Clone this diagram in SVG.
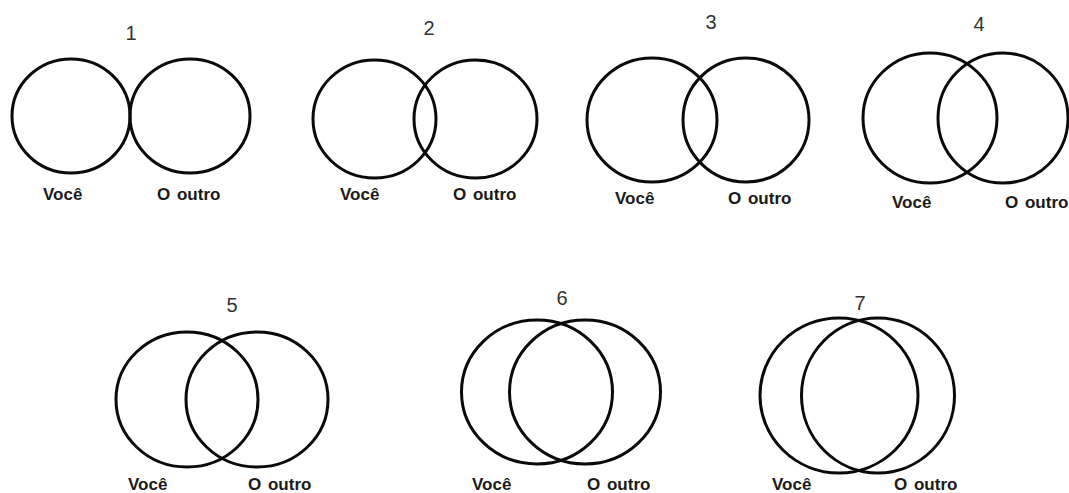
<svg xmlns="http://www.w3.org/2000/svg" width="1069" height="493" viewBox="0 0 1069 493">
<style>
.c{fill:none;stroke:#0a0a0a;stroke-width:3}
.n{font-family:"Liberation Sans",Arial,sans-serif;font-size:20px;fill:#333;text-anchor:middle}
.l{font-family:"Liberation Sans",Arial,sans-serif;font-size:17px;font-weight:bold;fill:#1a1a1a;word-spacing:2px}
</style>
<rect width="1069" height="493" fill="#fff"/>
<g id="d1">
<ellipse class="c" cx="71" cy="116" rx="59" ry="57"/>
<ellipse class="c" cx="190" cy="116" rx="60" ry="57"/>
<text class="n" x="131" y="40">1</text>
<text class="l" x="43" y="200">Você</text>
<text class="l" x="157" y="200">O outro</text>
</g>
<g id="d2">
<ellipse class="c" cx="374.5" cy="119" rx="61.5" ry="59"/>
<ellipse class="c" cx="475.5" cy="119" rx="61.5" ry="59"/>
<text class="n" x="429" y="35">2</text>
<text class="l" x="340" y="200">Você</text>
<text class="l" x="453" y="200">O outro</text>
</g>
<g id="d3">
<ellipse class="c" cx="652" cy="120" rx="65" ry="62"/>
<ellipse class="c" cx="746" cy="120" rx="63" ry="62"/>
<text class="n" x="711" y="29">3</text>
<text class="l" x="615" y="204">Você</text>
<text class="l" x="728" y="204">O outro</text>
</g>
<g id="d4">
<ellipse class="c" cx="930" cy="118" rx="67" ry="65"/>
<ellipse class="c" cx="1003" cy="118" rx="65" ry="65"/>
<text class="n" x="979" y="31">4</text>
<text class="l" x="892" y="208">Você</text>
<text class="l" x="1005" y="208">O outro</text>
</g>
<g id="d5">
<ellipse class="c" cx="187" cy="399.5" rx="71" ry="67.5"/>
<ellipse class="c" cx="257" cy="399.5" rx="71" ry="67.5"/>
<text class="n" x="232" y="312">5</text>
<text class="l" x="128" y="490">Você</text>
<text class="l" x="248" y="490">O outro</text>
</g>
<g id="d6">
<ellipse class="c" cx="537" cy="392" rx="75.5" ry="72"/>
<ellipse class="c" cx="585" cy="392" rx="75.5" ry="72"/>
<text class="n" x="562" y="305">6</text>
<text class="l" x="472" y="490">Você</text>
<text class="l" x="587" y="490">O outro</text>
</g>
<g id="d7">
<ellipse class="c" cx="839" cy="395.5" rx="79" ry="77.5"/>
<ellipse class="c" cx="878" cy="395.5" rx="76.5" ry="77.5"/>
<text class="n" x="860" y="310">7</text>
<text class="l" x="772" y="490">Você</text>
<text class="l" x="894" y="490">O outro</text>
</g>
<g id="connectors"/>
</svg>
